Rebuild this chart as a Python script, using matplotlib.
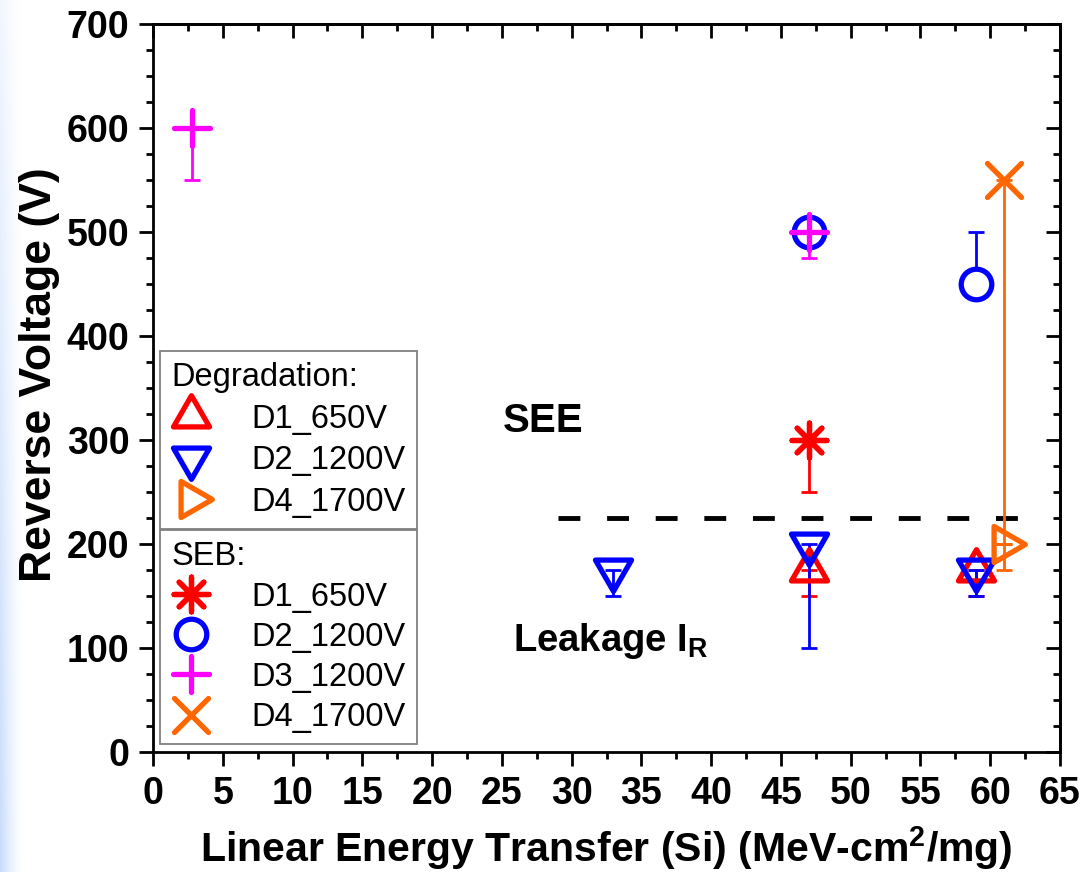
import numpy as np
import matplotlib.pyplot as plt
from matplotlib.lines import Line2D
from matplotlib.markers import MarkerStyle

plt.rcParams['font.family'] = ['Liberation Sans', 'DejaVu Sans']
plt.rcParams['mathtext.default'] = 'regular'

# ---- data ----
# Degradation
deg_d1_x = [47, 59]
deg_d1_y = [175, 175]
deg_d1_lo = [25, 25]

deg_d2_x = [33, 47, 59]
deg_d2_y = [175, 200, 175]
deg_d2_lo = [25, 100, 25]

deg_d4_x = [61]
deg_d4_y = [200]
deg_d4_lo = [25]

# SEB
seb_d1_x = [47]
seb_d1_y = [300]
seb_d1_lo = [50]
seb_d1_hi = [0]

seb_d2_x = [47, 59]
seb_d2_y = [500, 450]
seb_d2_lo = [0, 0]
seb_d2_hi = [0, 50]

seb_d3_x = [2.8, 47]
seb_d3_y = [600, 500]
seb_d3_lo = [50, 25]
seb_d3_hi = [0, 0]

seb_d4_x = [61]
seb_d4_y = [550]
seb_d4_lo = [350]
seb_d4_hi = [0]

threshold_v = 225
threshold_x = [29, 63]

RED = '#ff0000'
BLUE = '#0000ff'
MAG = '#ff00ff'
ORANGE = '#ff6600'


def ms_(m):
    return MarkerStyle(m, joinstyle='round', capstyle='round')


TRI_UP = ms_((3, 0, 0))
TRI_DN = ms_((3, 0, 180))
TRI_RT = ms_((3, 0, -90))
STAR = ms_((8, 2, 0))
CIRC = ms_('o')
PLUS = ms_('+')
CROSS = ms_('x')

fig = plt.figure(figsize=(10.81, 8.72), dpi=100)

# light blue slide edge on the left
bg = fig.add_axes([0, 0, 0.022, 1])
gx = np.linspace(1, 0, 40)[None, :]
gy = np.linspace(0.25, 1, 100)[:, None]
alpha = (gx ** 1.5) * gy
img = np.ones((100, 40, 4))
img[..., 0] = 0.78
img[..., 1] = 0.86
img[..., 2] = 0.99
img[..., 3] = alpha
bg.imshow(img, aspect='auto', extent=[0, 1, 0, 1], origin='upper')
bg.axis('off')

ax = fig.add_axes([153 / 1081, 1 - 752 / 872, 907 / 1081, 728 / 872])

lw = 2.0
ms_tri = 30
mew = 3.8


def err(x, y, lo, hi, color, z=2):
    x = np.array(x, float)
    y = np.array(y, float)
    lo = np.array(lo, float)
    hi = np.array(hi, float)
    m = (lo > 0) | (hi > 0)
    if m.any():
        ax.errorbar(x[m], y[m], yerr=[lo[m], hi[m]], fmt='none', ecolor=color,
                    elinewidth=lw, capsize=6, capthick=lw, zorder=z)


def mark(x, y, marker, color, ms, fill='none', z=3):
    ax.plot(x, y, linestyle='none', marker=marker, ms=ms, mfc=fill,
            mec=color, mew=mew, zorder=z)


# error bars
err(seb_d4_x, seb_d4_y, seb_d4_lo, seb_d4_hi, ORANGE)
err(deg_d1_x, deg_d1_y, deg_d1_lo, [0] * len(deg_d1_x), RED)
err(deg_d2_x, deg_d2_y, deg_d2_lo, [0] * len(deg_d2_x), BLUE)
err(deg_d4_x, deg_d4_y, deg_d4_lo, [0], ORANGE)
err(seb_d1_x, seb_d1_y, seb_d1_lo, seb_d1_hi, RED)
err(seb_d2_x, seb_d2_y, seb_d2_lo, seb_d2_hi, BLUE)
err(seb_d3_x, seb_d3_y, seb_d3_lo, seb_d3_hi, MAG, z=5)

# markers
mark(deg_d1_x, deg_d1_y, TRI_UP, RED, ms_tri)
mark(deg_d2_x, deg_d2_y, TRI_DN, BLUE, ms_tri)
mark(deg_d4_x, deg_d4_y, TRI_RT, ORANGE, ms_tri)
mark(seb_d1_x, seb_d1_y, STAR, RED, 25)
mark(seb_d2_x, seb_d2_y, CIRC, BLUE, 22, fill='white', z=4)
mark(seb_d3_x, seb_d3_y, PLUS, MAG, 26, z=6)
mark(seb_d4_x, seb_d4_y, CROSS, ORANGE, 24)

# threshold line
ax.plot(threshold_x, [threshold_v, threshold_v], color='black', lw=3.5,
        dashes=(4.5, 5.5), zorder=1)

ax.text(25.1, 318, 'SEE', fontsize=29, fontweight='bold', va='center', ha='left')
ax.text(25.8, 107, 'Leakage I$_R$', fontsize=27.5, fontweight='bold', va='center', ha='left')

ax.set_xlim(0, 65)
ax.set_ylim(0, 700)
ax.set_xticks(np.arange(0, 66, 5))
ax.set_xticks(np.arange(0, 65, 2.5), minor=True)
ax.set_yticks(np.arange(0, 701, 100))
ax.set_yticks(np.arange(0, 701, 25), minor=True)

for s in ax.spines.values():
    s.set_linewidth(2.0)

ax.tick_params(which='major', direction='out', length=10, width=2.0, labelsize=27, pad=7)
ax.tick_params(which='minor', direction='out', length=5, width=2.0)
for lab in ax.get_xticklabels() + ax.get_yticklabels():
    lab.set_fontweight('bold')

top = ax.secondary_xaxis('top')
top.set_xticks(np.arange(0, 66, 5))
top.set_xticks(np.arange(0, 65, 2.5), minor=True)
top.tick_params(which='major', direction='in', length=10, width=2.0, labeltop=False)
top.tick_params(which='minor', direction='in', length=5, width=2.0)
right = ax.secondary_yaxis('right')
right.set_yticks(np.arange(0, 701, 100))
right.set_yticks(np.arange(0, 701, 25), minor=True)
right.tick_params(which='major', direction='in', length=10, width=2.0, labelright=False)
right.tick_params(which='minor', direction='in', length=5, width=2.0)
top.spines['top'].set_linewidth(2.0)
right.spines['right'].set_linewidth(2.0)

ax.set_xlabel('Linear Energy Transfer (Si) (MeV-cm$^2$/mg)', fontsize=29.5,
              fontweight='bold', va='baseline')
ax.xaxis.set_label_coords(0.5, (752 - 862) / 728)
ax.set_ylabel('Reverse Voltage (V)', fontsize=32, fontweight='bold', labelpad=5)
ax.yaxis.label.set_y(0.518)


def h(marker, color, ms, fill='none'):
    return Line2D([], [], linestyle='none', marker=marker, ms=ms, mfc=fill,
                  mec=color, mew=mew)


leg_kw = dict(fontsize=23.5, title_fontsize=23.5, alignment='left', frameon=True,
              fancybox=False, edgecolor='#808080', framealpha=1,
              handlelength=1.2, handletextpad=1.25,
              borderpad=0.35, borderaxespad=0)

leg1 = ax.legend([h(TRI_UP, RED, ms_tri), h(TRI_DN, BLUE, ms_tri), h(TRI_RT, ORANGE, ms_tri)],
                 ['D1_650V', 'D2_1200V', 'D4_1700V'], title='Degradation:',
                 loc='upper left', bbox_to_anchor=(0.0077, 0.551), labelspacing=0.32,
                 **leg_kw)
leg1.get_frame().set_linewidth(1.3)
ax.add_artist(leg1)

leg2 = ax.legend([h(STAR, RED, 25), h(CIRC, BLUE, 22), h(PLUS, MAG, 26), h(CROSS, ORANGE, 24)],
                 ['D1_650V', 'D2_1200V', 'D3_1200V', 'D4_1700V'], title='SEB:',
                 loc='upper left', bbox_to_anchor=(0.0077, 0.305), labelspacing=0.28,
                 **leg_kw)
leg2.get_frame().set_linewidth(1.3)

fig.savefig('out.png', dpi=100)
